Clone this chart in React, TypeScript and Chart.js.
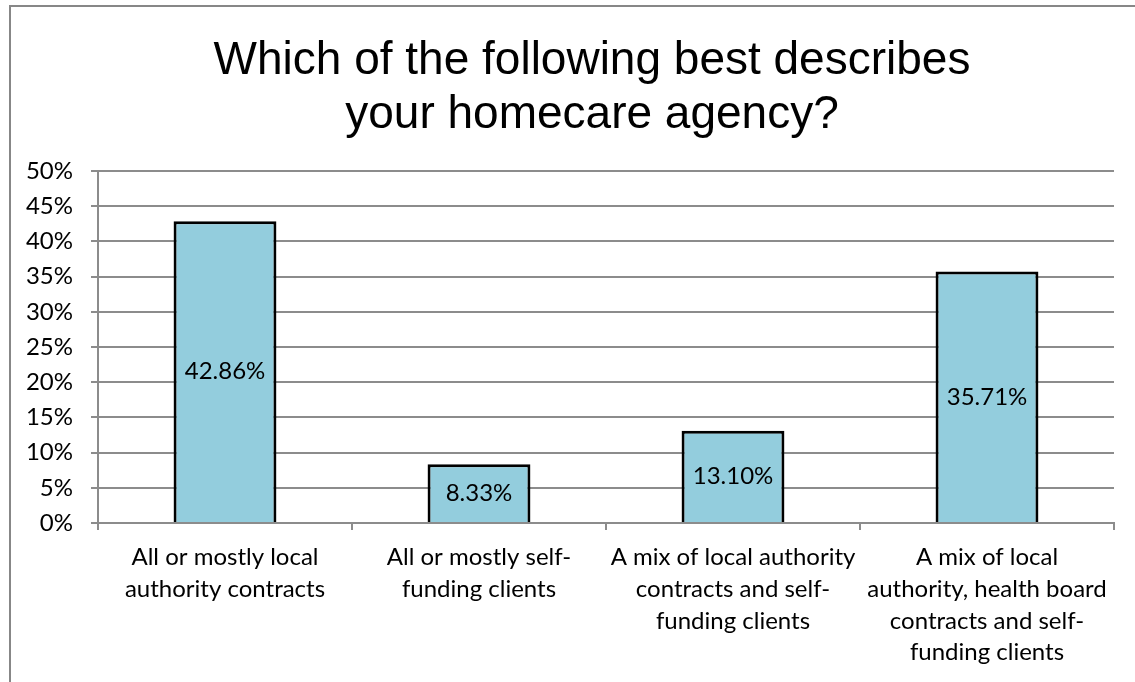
import React, { useEffect, useRef } from "react";
import { Chart, registerables } from "chart.js";

Chart.register(...registerables);

const titleLines = ["Which of the following best describes", "your homecare agency?"];
const categories: string[][] = [
  ["All or mostly local", "authority contracts"],
  ["All or mostly self-", "funding clients"],
  ["A mix of local authority", "contracts and self-", "funding clients"],
  ["A mix of local", "authority, health board", "contracts and self-", "funding clients"],
];
const values = [42.86, 8.33, 13.1, 35.71];
const yMin = 0;
const yMax = 50;
const yStep = 5;

const LABEL_FONT = "Lato, 'Open Sans', sans-serif";
const GRID = "#8c8c8c";

const barLabels = {
  id: "barLabels",
  afterDatasetsDraw(chart: any) {
    const ctx = chart.ctx;
    const meta = chart.getDatasetMeta(0);
    ctx.save();
    ctx.font = `24px ${LABEL_FONT}`;
    ctx.fillStyle = "#000";
    ctx.textAlign = "center";
    ctx.textBaseline = "middle";
    meta.data.forEach((el: any, i: number) => {
      const v = chart.data.datasets[0].data[i] as number;
      ctx.fillText(v.toFixed(2) + "%", el.x, (el.y + el.base) / 2);
    });
    ctx.restore();
  },
};

const chartTitle = {
  id: "chartTitle",
  afterDraw(chart: any) {
    const ctx = chart.ctx;
    ctx.save();
    ctx.font = "46px 'Liberation Sans', Arial, sans-serif";
    ctx.fillStyle = "#000";
    ctx.textAlign = "center";
    ctx.textBaseline = "middle";
    titleLines.forEach((line, i) => {
      ctx.fillText(line, 592, 61 + i * 54);
    });
    ctx.restore();
  },
};

export default function App() {
  const ref = useRef<HTMLCanvasElement>(null);
  useEffect(() => {
    document.body.style.overflow = "hidden";
    const chart = new Chart(ref.current!, {
      type: "bar",
      data: {
        labels: categories,
        datasets: [
          {
            data: values,
            backgroundColor: "#93CDDD",
            borderColor: "#000",
            borderWidth: 3,
            barPercentage: 0.405,
            categoryPercentage: 1,
          },
        ],
      },
      options: {
        animation: false,
        responsive: true,
        maintainAspectRatio: false,
        layout: { padding: { left: 0, right: 21, top: 171, bottom: 0 } },
        plugins: {
          legend: { display: false },
          tooltip: { enabled: false },
          title: { display: false },
        },
        scales: {
          x: {
            afterFit: (s: any) => {
              s.height = 159;
            },
            grid: { display: true, drawOnChartArea: false, drawTicks: true, tickLength: 7, color: GRID, lineWidth: 2, offset: true },
            border: { display: true, color: GRID, width: 2 },
            ticks: {
              color: "#000",
              padding: 11,
              maxRotation: 0,
              autoSkip: false,
              font: { family: LABEL_FONT, size: 24, lineHeight: 1.33 },
            },
          },
          y: {
            min: yMin,
            max: yMax,
            afterFit: (s: any) => {
              s.width = 98;
            },
            grid: { color: GRID, lineWidth: 2, tickLength: 7, drawTicks: true },
            border: { display: true, color: GRID, width: 2 },
            ticks: {
              stepSize: yStep,
              color: "#000",
              padding: 18,
              font: { family: LABEL_FONT, size: 24 },
              callback: (v: any) => v + "%",
            },
          },
        },
      },
      plugins: [barLabels, chartTitle],
    });
    return () => chart.destroy();
  }, []);
  return (
    <>
      <div
        style={{
          position: "absolute",
          left: 9,
          top: 5,
          width: 1300,
          height: 900,
          border: "2px solid #878787",
          boxSizing: "border-box",
        }}
      />
      <div style={{ position: "absolute", left: 0, top: 0, width: 1135, height: 682 }}>
        <canvas ref={ref} />
      </div>
    </>
  );
}
